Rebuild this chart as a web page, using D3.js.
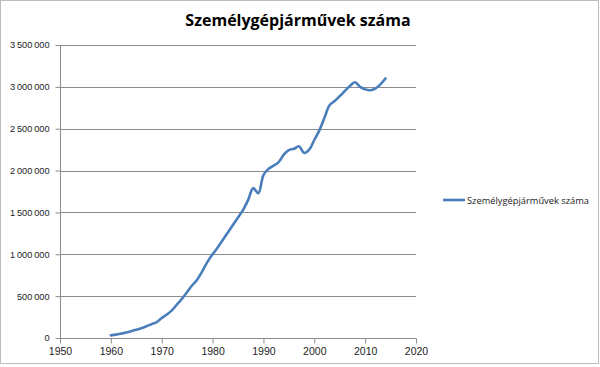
<!DOCTYPE html>
<html>
<head>
<meta charset="utf-8">
<script src="https://cdn.jsdelivr.net/npm/d3@7"></script>
<style>
  body { margin: 0; background: #fff; }
  svg { display: block; font-family: "Open Sans", "Liberation Sans", sans-serif; }
</style>
</head>
<body>
<svg id="chart" width="600" height="367"></svg>
<script>
// Data
const years = [1960, 1961, 1962, 1963, 1964, 1965, 1966, 1967, 1968, 1969,
  1970, 1971, 1972, 1973, 1974, 1975, 1976, 1977, 1978, 1979,
  1980, 1981, 1982, 1983, 1984, 1985, 1986, 1987, 1988, 1989,
  1990, 1991, 1992, 1993, 1994, 1995, 1996, 1997, 1998, 1999,
  2000, 2001, 2002, 2003, 2004, 2005, 2006, 2007, 2008, 2009,
  2010, 2011, 2012, 2013, 2014];
const cars = [31000, 40000, 52000, 65000, 82000, 98000, 117000, 140000, 165000, 190000,
  238000, 280000, 330000, 400000, 470000, 550000, 630000, 700000, 800000, 910000,
  1000000, 1080000, 1170000, 1260000, 1350000, 1440000, 1530000, 1650000, 1790000, 1730000,
  1945000, 2020000, 2060000, 2100000, 2190000, 2245000, 2260000, 2290000, 2210000, 2250000,
  2365000, 2480000, 2630000, 2780000, 2830000, 2889000, 2950000, 3010000, 3055000, 3000000,
  2970000, 2960000, 2980000, 3030000, 3100000];
const xTicks = [1950, 1960, 1970, 1980, 1990, 2000, 2010, 2020];
const yTicks = [0, 500000, 1000000, 1500000, 2000000, 2500000, 3000000, 3500000];
const title = "Személygépjárművek száma";
const seriesName = "Személygépjárművek száma";

const svg = d3.select("#chart");
const margin = { top: 45, right: 184, bottom: 29, left: 60 };
const width = +svg.attr("width");
const height = +svg.attr("height");

// outer chart border
svg.append("rect")
  .attr("x", 0.5).attr("y", 0.5)
  .attr("width", width - 2).attr("height", height - 4)
  .attr("fill", "#fff")
  .attr("stroke", "#bdbdbd");

const x = d3.scaleLinear().domain([1950, 2020]).range([margin.left, width - margin.right]);
const y = d3.scaleLinear().domain([0, 3500000]).range([height - margin.bottom, margin.top]);

const fmt = v => d3.format(",")(v).replace(/,/g, "\u2009");

// gridlines
svg.append("g")
  .selectAll("line")
  .data(yTicks.filter(d => d > 0))
  .join("line")
  .attr("x1", x(1950)).attr("x2", x(2020))
  .attr("y1", d => Math.round(y(d)) + 0.5).attr("y2", d => Math.round(y(d)) + 0.5)
  .attr("stroke", "#8c8c8c")
  .attr("stroke-width", 1);

// y axis
const yAxis = svg.append("g")
  .attr("transform", `translate(${x(1950) + 0.5},0)`)
  .call(d3.axisLeft(y).tickValues(yTicks).tickSize(5).tickPadding(6).tickFormat(fmt));
yAxis.select(".domain").attr("stroke", "#8c8c8c").attr("d", `M0,${y(3500000)}V${y(0)}`);
yAxis.selectAll(".tick line").attr("stroke", "#8c8c8c");
yAxis.selectAll(".tick text").attr("fill", "#222").style("font-size", "9.2px");

// x axis
const xAxis = svg.append("g")
  .attr("transform", `translate(0,${Math.round(y(0)) + 0.5})`)
  .call(d3.axisBottom(x).tickValues(xTicks).tickSize(5).tickPadding(4).tickFormat(d3.format("d")));
xAxis.select(".domain").attr("stroke", "#8c8c8c").attr("d", `M${x(1950)},0H${x(2020)}`);
xAxis.selectAll(".tick line").attr("stroke", "#8c8c8c");
xAxis.selectAll(".tick text").attr("fill", "#222").style("font-size", "10.5px");

// the series
const data = years.map((yr, i) => ({ year: yr, value: cars[i] }));
svg.append("path")
  .datum(data)
  .attr("fill", "none")
  .attr("stroke", "#4a7ebb")
  .attr("stroke-width", 2.6)
  .attr("stroke-linejoin", "round")
  .attr("stroke-linecap", "round")
  .attr("d", d3.line()
    .curve(d3.curveCatmullRom.alpha(0.5))
    .x(d => x(d.year))
    .y(d => y(d.value)));

// title
svg.append("text")
  .attr("x", 298)
  .attr("y", 26)
  .attr("text-anchor", "middle")
  .style("font-size", "16px")
  .style("font-weight", "bold")
  .attr("fill", "#000")
  .text(title);

// legend
const legend = svg.append("g").attr("transform", "translate(443,200)");
legend.append("line")
  .attr("x1", 0).attr("x2", 22)
  .attr("stroke", "#4a7ebb")
  .attr("stroke-width", 2.6);
legend.append("text")
  .attr("x", 24)
  .attr("y", 3.5)
  .style("font-size", "9.3px")
  .attr("fill", "#222")
  .text(seriesName);
</script>
</body>
</html>
